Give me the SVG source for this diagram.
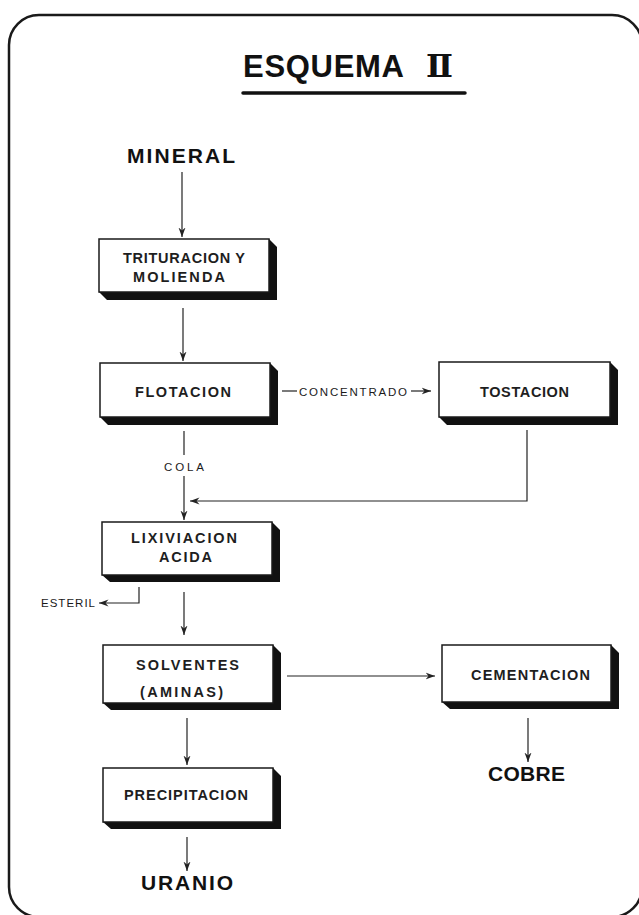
<svg xmlns="http://www.w3.org/2000/svg" width="639" height="915" viewBox="0 0 639 915">
  <style>
    .frame { fill: none; stroke: #1a1a1a; stroke-width: 2.5; }
    .face { fill: #fff; stroke: #1a1a1a; stroke-width: 1.5; }
    .side { fill: #111; }
    .lbl { font-family: "Liberation Sans", Arial, sans-serif; font-weight: bold; font-size: 14.5px; fill: #1e1e1e; }
    .big { font-family: "Liberation Sans", Arial, sans-serif; font-weight: bold; font-size: 21px; fill: #111; }
    .small { font-family: "Liberation Sans", Arial, sans-serif; font-size: 11.5px; fill: #1a1a1a; }
    .wire { fill: none; stroke: #222; stroke-width: 1.2; }
  </style>
  <defs>
    <marker id="arrow" viewBox="0 0 10 8" refX="9.5" refY="4" markerWidth="10" markerHeight="8" markerUnits="userSpaceOnUse" orient="auto">
      <path d="M0,0.5 L9.5,4 L0,7.5 L3,4 Z" fill="#222"/>
    </marker>
  </defs>

  <rect width="639" height="915" fill="#fff"/>
  <!-- outer frame -->
  <rect class="frame" x="9" y="15" width="633" height="902" rx="30" ry="30"/>

  <!-- title -->
  <g id="title">
    <text x="243" y="77" font-family="'Liberation Sans', Arial, sans-serif" font-weight="bold" font-size="31" fill="#111" textLength="161" lengthAdjust="spacing">ESQUEMA</text>
    <text x="439.5" y="77" font-family="'DejaVu Serif', 'Liberation Serif', serif" font-weight="bold" font-size="32" fill="#111" text-anchor="middle">Ⅱ</text>
    <line x1="243" y1="93" x2="465" y2="93" stroke="#111" stroke-width="3.5" stroke-linecap="round"/>
  </g>

  <!-- nodes -->
  <g id="mineral"><text class="big" x="127" y="163" textLength="108" lengthAdjust="spacing">MINERAL</text></g>

  <g id="trituracion">
    <path class="side" d="M269,239 L277,247 L277,300 L107,300 L99,292 L269,292 Z"/>
    <rect class="face" x="99" y="239" width="170" height="53"/>
    <text class="lbl" x="123" y="263" textLength="122" lengthAdjust="spacing">TRITURACION Y</text>
    <text class="lbl" x="133" y="282" textLength="92" lengthAdjust="spacing">MOLIENDA</text>
  </g>

  <g id="flotacion">
    <path class="side" d="M270,363 L278,371 L278,425 L108,425 L100,417 L270,417 Z"/>
    <rect class="face" x="100" y="363" width="170" height="54"/>
    <text class="lbl" x="135" y="397" textLength="96" lengthAdjust="spacing">FLOTACION</text>
  </g>

  <g id="tostacion">
    <path class="side" d="M610,362 L618,370 L618,425 L447,425 L439,417 L610,417 Z"/>
    <rect class="face" x="439" y="362" width="171" height="55"/>
    <text class="lbl" x="480" y="397" textLength="89" lengthAdjust="spacing">TOSTACION</text>
  </g>

  <g id="lixiviacion">
    <path class="side" d="M272,522 L280,530 L280,582 L110,582 L102,575 L272,575 Z"/>
    <rect class="face" x="102" y="522" width="170" height="53"/>
    <text class="lbl" x="131" y="543" textLength="106" lengthAdjust="spacing">LIXIVIACION</text>
    <text class="lbl" x="159" y="562" textLength="53" lengthAdjust="spacing">ACIDA</text>
  </g>

  <g id="solventes">
    <path class="side" d="M273,645 L281,653 L281,710 L111,710 L103,703 L273,703 Z"/>
    <rect class="face" x="103" y="645" width="170" height="58"/>
    <text class="lbl" x="136" y="670" textLength="103" lengthAdjust="spacing">SOLVENTES</text>
    <text class="lbl" x="140" y="697" font-size="13.5" textLength="83" lengthAdjust="spacing">(AMINAS)</text>
  </g>

  <g id="cementacion">
    <path class="side" d="M611,645 L619,653 L619,709 L450,709 L442,702 L611,702 Z"/>
    <rect class="face" x="442" y="645" width="169" height="57"/>
    <text class="lbl" x="471" y="680" textLength="119" lengthAdjust="spacing">CEMENTACION</text>
  </g>

  <g id="precipitacion">
    <path class="side" d="M273,768 L281,776 L281,829 L111,829 L103,822 L273,822 Z"/>
    <rect class="face" x="103" y="768" width="170" height="54"/>
    <text class="lbl" x="124" y="800" textLength="124" lengthAdjust="spacing">PRECIPITACION</text>
  </g>

  <g id="cobre"><text class="big" x="488" y="781" textLength="77" lengthAdjust="spacing">COBRE</text></g>
  <g id="uranio"><text class="big" x="141" y="890" textLength="92" lengthAdjust="spacing">URANIO</text></g>
  <g id="esteril"><text class="small" x="41" y="607" font-size="11" textLength="54" lengthAdjust="spacing">ESTERIL</text></g>

  <!-- connectors -->
  <g id="connectors">
    <line class="wire" x1="182" y1="172" x2="182" y2="237" marker-end="url(#arrow)"/>
    <line class="wire" x1="183" y1="308" x2="183" y2="361" marker-end="url(#arrow)"/>

    <line class="wire" x1="282" y1="391" x2="297" y2="391"/>
    <text class="small" x="299" y="395.5" textLength="108" lengthAdjust="spacing">CONCENTRADO</text>
    <line class="wire" x1="411" y1="391" x2="431" y2="391" marker-end="url(#arrow)"/>

    <line class="wire" x1="184" y1="431" x2="184" y2="455"/>
    <text class="small" x="164" y="471" font-size="11" textLength="40" lengthAdjust="spacing">COLA</text>
    <line class="wire" x1="184" y1="476" x2="184" y2="520" marker-end="url(#arrow)"/>

    <polyline class="wire" points="527,430 527,501 190,501" marker-end="url(#arrow)"/>

    <polyline class="wire" points="139,587 139,603 99,603" marker-end="url(#arrow)"/>
    <line class="wire" x1="184" y1="592" x2="184" y2="635" marker-end="url(#arrow)"/>

    <line class="wire" x1="287" y1="676" x2="435" y2="676" marker-end="url(#arrow)"/>
    <line class="wire" x1="187" y1="718" x2="187" y2="765" marker-end="url(#arrow)"/>
    <line class="wire" x1="528" y1="718" x2="528" y2="762" marker-end="url(#arrow)"/>
    <line class="wire" x1="187" y1="837" x2="187" y2="871" marker-end="url(#arrow)"/>
  </g>
</svg>
